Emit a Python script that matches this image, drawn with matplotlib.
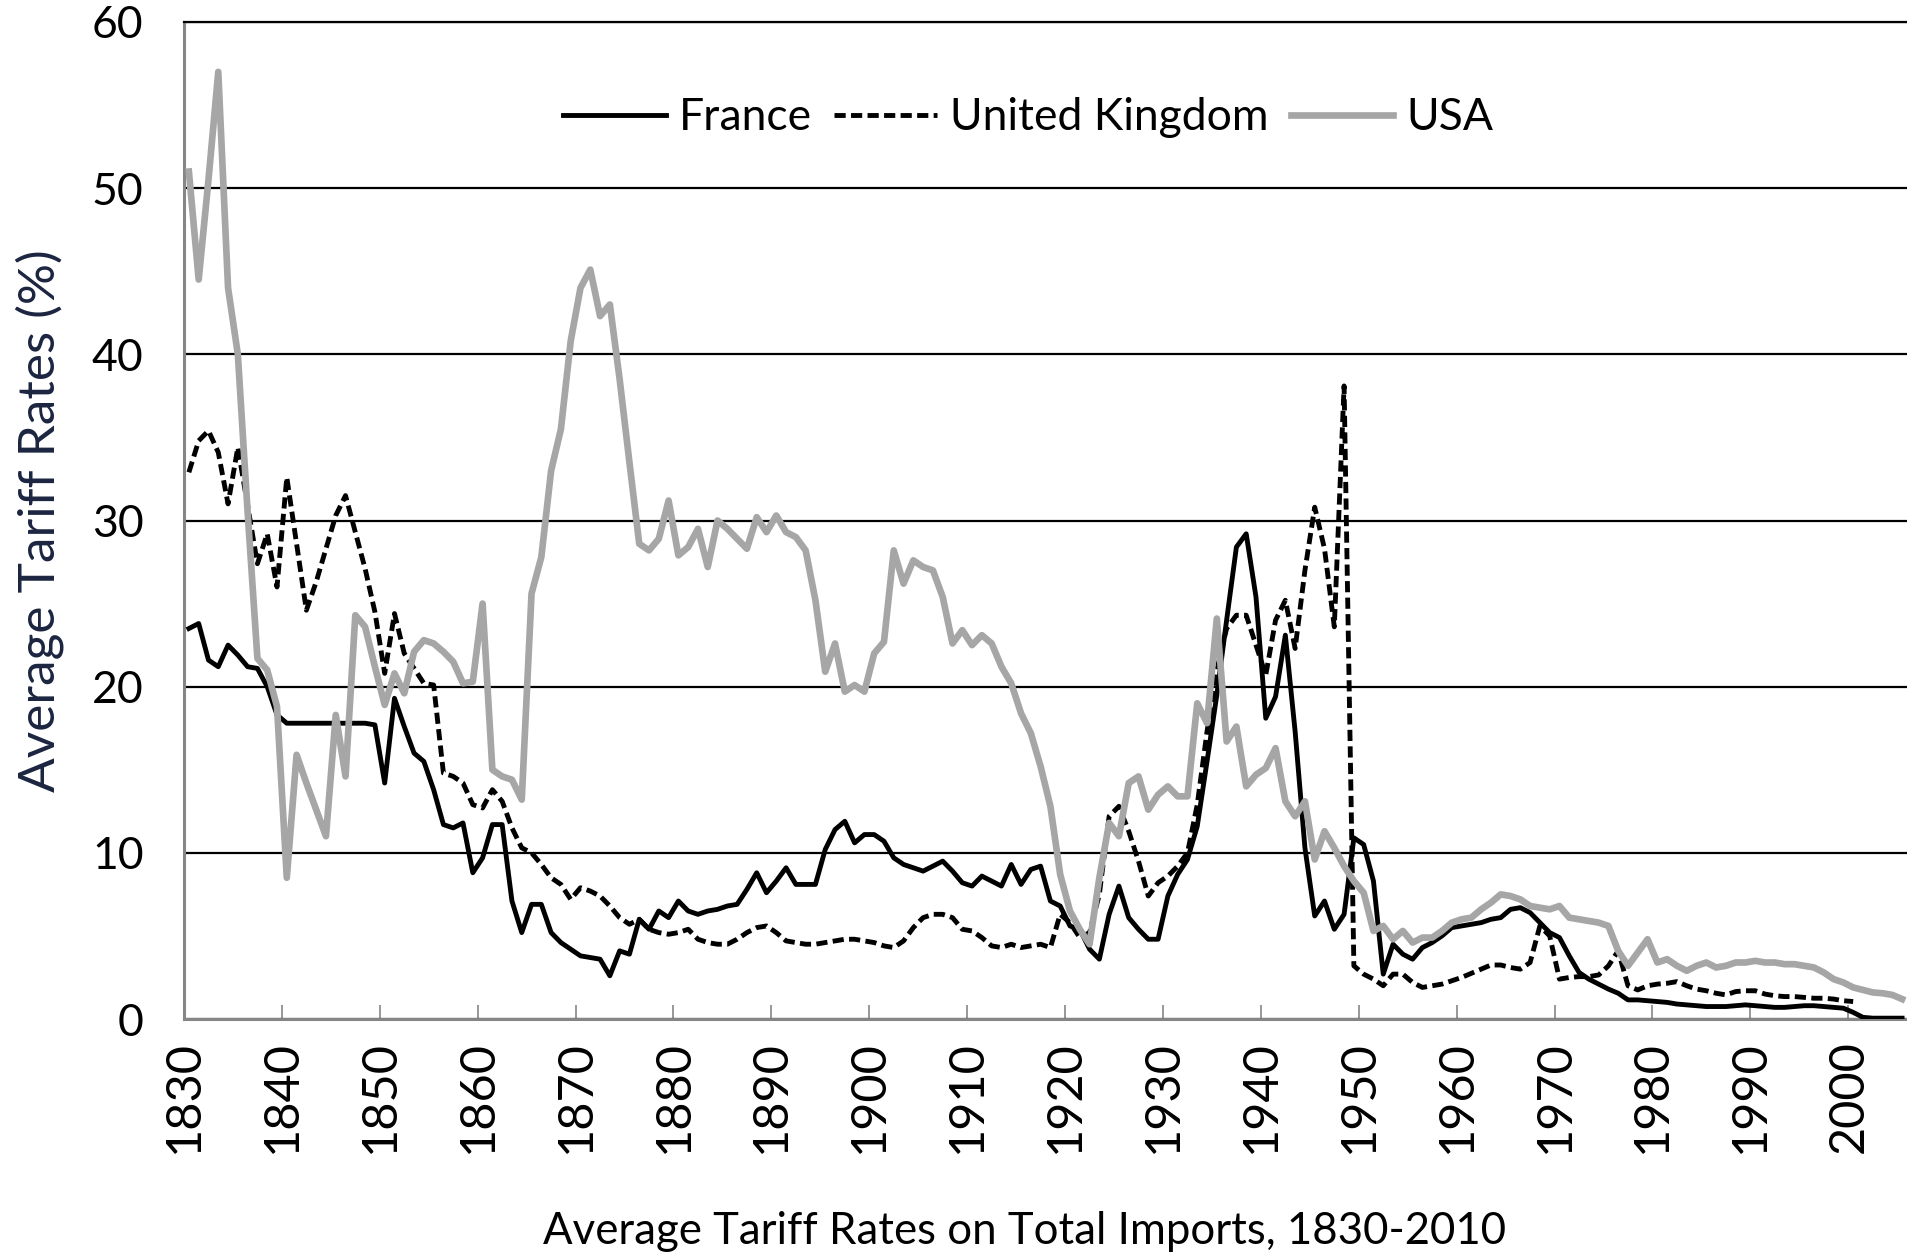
import matplotlib
matplotlib.use("Agg")
import matplotlib.pyplot as plt

# ---------------- data ----------------
years = list(range(1830, 2006))
uk_years = list(range(1830, 2001))

france = [
    23.5, 23.8, 21.6, 21.2, 22.5, 21.9, 21.2, 21.1, 20.0, 18.3,   # 1830s
    17.8, 17.8, 17.8, 17.8, 17.8, 17.8, 17.8, 17.8, 17.8, 17.7,   # 1840s
    14.2, 19.3, 17.6, 16.0, 15.5, 13.8, 11.7, 11.5, 11.8, 8.8,    # 1850s
    9.7, 11.7, 11.7, 7.1, 5.2, 6.9, 6.9, 5.2, 4.6, 4.2,           # 1860s
    3.8, 3.7, 3.6, 2.6, 4.1, 3.9, 6.0, 5.4, 6.5, 6.1,             # 1870s
    7.1, 6.5, 6.3, 6.5, 6.6, 6.8, 6.9, 7.8, 8.8, 7.6,             # 1880s
    8.3, 9.1, 8.1, 8.1, 8.1, 10.2, 11.4, 11.9, 10.6, 11.1,        # 1890s
    11.1, 10.7, 9.7, 9.3, 9.1, 8.9, 9.2, 9.5, 8.9, 8.2,           # 1900s
    8.0, 8.6, 8.3, 8.0, 9.3, 8.1, 9.0, 9.2, 7.1, 6.8,             # 1910s
    5.6, 5.4, 4.2, 3.6, 6.3, 8.0, 6.1, 5.4, 4.8, 4.8,             # 1920s
    7.4, 8.7, 9.6, 11.6, 15.5, 19.5, 24.0, 28.4, 29.2, 25.4,      # 1930s
    18.1, 19.4, 23.1, 17.3, 10.3, 6.2, 7.1, 5.4, 6.3, 10.9,       # 1940s
    10.5, 8.3, 2.7, 4.5, 3.9, 3.6, 4.3, 4.6, 5.0, 5.5,            # 1950s
    5.6, 5.7, 5.8, 6.0, 6.1, 6.6, 6.7, 6.4, 5.8, 5.2,             # 1960s
    4.9, 3.8, 2.8, 2.4, 2.1, 1.8, 1.55, 1.15, 1.15, 1.1,          # 1970s
    1.05, 1.0, 0.9, 0.85, 0.8, 0.75, 0.75, 0.75, 0.8, 0.85,       # 1980s
    0.8, 0.75, 0.7, 0.7, 0.75, 0.8, 0.8, 0.75, 0.7, 0.65,         # 1990s
    0.4, 0.1, 0.05, 0.05, 0.05, 0.05,                             # 2000s
]

uk = [
    32.9, 34.8, 35.4, 34.1, 31.0, 34.4, 30.9, 27.4, 29.2, 26.0,   # 1830s
    32.6, 28.6, 24.6, 26.3, 28.3, 30.3, 31.5, 29.3, 27.1, 24.5,   # 1840s
    20.8, 24.4, 22.0, 21.1, 20.2, 20.1, 14.8, 14.6, 14.2, 12.9,   # 1850s
    12.7, 13.8, 13.1, 11.5, 10.3, 10.0, 9.3, 8.5, 8.1, 7.2,       # 1860s
    7.9, 7.7, 7.4, 6.8, 6.1, 5.7, 6.0, 5.4, 5.2, 5.1,             # 1870s
    5.2, 5.4, 4.8, 4.6, 4.5, 4.5, 4.8, 5.2, 5.5, 5.6,             # 1880s
    5.2, 4.7, 4.6, 4.5, 4.5, 4.6, 4.7, 4.8, 4.8, 4.7,             # 1890s
    4.6, 4.4, 4.3, 4.7, 5.5, 6.1, 6.3, 6.3, 6.1, 5.4,             # 1900s
    5.3, 4.9, 4.4, 4.3, 4.5, 4.3, 4.4, 4.5, 4.3, 6.3,             # 1910s
    5.8, 4.9, 5.2, 7.5, 12.2, 12.8, 11.3, 9.5, 7.4, 8.2,          # 1920s
    8.6, 9.2, 10.0, 12.9, 17.3, 21.0, 23.5, 24.3, 24.3, 22.5,     # 1930s
    20.7, 24.0, 25.2, 22.3, 27.0, 30.8, 28.3, 23.6, 38.1, 3.2,    # 1940s
    2.7, 2.4, 2.0, 2.7, 2.7, 2.2, 1.9, 2.0, 2.1, 2.3,             # 1950s
    2.5, 2.75, 3.0, 3.25, 3.25, 3.1, 3.0, 3.4, 5.6, 5.0,          # 1960s
    2.4, 2.5, 2.55, 2.55, 2.65, 3.2, 4.1, 2.0, 1.75, 2.0,         # 1970s
    2.1, 2.15, 2.25, 2.0, 1.8, 1.7, 1.55, 1.45, 1.65, 1.7,        # 1980s
    1.7, 1.5, 1.4, 1.35, 1.35, 1.3, 1.25, 1.25, 1.2, 1.1,         # 1990s
    1.05,                                                         # 2000
]

usa = [
    51.0, 44.5, 50.5, 57.0, 44.0, 40.0, 30.5, 21.7, 21.0, 18.8,   # 1830s
    8.5, 15.9, 14.2, 12.6, 11.0, 18.3, 14.6, 24.3, 23.6, 21.2,    # 1840s
    18.9, 20.8, 19.6, 22.1, 22.8, 22.6, 22.1, 21.5, 20.2, 20.3,   # 1850s
    25.0, 15.0, 14.6, 14.4, 13.2, 25.6, 27.8, 33.0, 35.5, 40.8,   # 1860s
    44.0, 45.1, 42.3, 43.0, 38.5, 33.5, 28.6, 28.2, 28.9, 31.2,   # 1870s
    27.9, 28.4, 29.5, 27.2, 30.0, 29.5, 28.9, 28.3, 30.2, 29.3,   # 1880s
    30.3, 29.3, 29.0, 28.2, 25.2, 20.9, 22.6, 19.7, 20.1, 19.7,   # 1890s
    22.0, 22.7, 28.2, 26.2, 27.6, 27.2, 27.0, 25.4, 22.6, 23.4,   # 1900s
    22.5, 23.1, 22.6, 21.2, 20.2, 18.4, 17.2, 15.2, 12.8, 8.7,    # 1910s
    6.5, 5.4, 4.5, 8.5, 11.8, 11.0, 14.2, 14.6, 12.6, 13.5,       # 1920s
    14.0, 13.4, 13.4, 19.0, 17.8, 24.1, 16.7, 17.6, 14.0, 14.7,   # 1930s
    15.1, 16.3, 13.1, 12.2, 13.1, 9.6, 11.3, 10.3, 9.2, 8.3,      # 1940s
    7.6, 5.3, 5.6, 4.8, 5.3, 4.6, 4.9, 4.9, 5.3, 5.8,             # 1950s
    6.0, 6.1, 6.6, 7.0, 7.5, 7.4, 7.2, 6.8, 6.7, 6.6,             # 1960s
    6.8, 6.1, 6.0, 5.9, 5.8, 5.6, 4.1, 3.2, 4.0, 4.8,             # 1970s
    3.4, 3.6, 3.2, 2.9, 3.2, 3.4, 3.1, 3.2, 3.4, 3.4,             # 1980s
    3.5, 3.4, 3.4, 3.3, 3.3, 3.2, 3.1, 2.8, 2.4, 2.2,             # 1990s
    1.9, 1.75, 1.6, 1.55, 1.45, 1.2,                              # 2000s
]

series_names = ["France", "United Kingdom", "USA"]
xtick_years = list(range(1830, 2001, 10))
xtick_labels = [str(y) for y in xtick_years]
ytick_values = [0, 10, 20, 30, 40, 50, 60]

# ---------------- style ----------------
plt.rcParams['font.family'] = ['Lato', 'DejaVu Sans']
GRAY = '#A6A6A6'
SPINE = '#868686'

fig = plt.figure(figsize=(19.07, 12.59), dpi=100)
ax = fig.add_axes([184 / 1907, 1 - 1019 / 1259, (1907 - 184) / 1907, (1019 - 22) / 1259])

l_fr, = ax.plot(years, france, color='black', lw=3.5, solid_joinstyle='round',
                label=series_names[0], zorder=3)
l_uk, = ax.plot(uk_years, uk, color='black', lw=3.5, ls=(0, (2.3, 1.1)),
                dash_joinstyle='round', label=series_names[1], zorder=4)
l_us, = ax.plot(years, usa, color=GRAY, lw=4.8, solid_joinstyle='round',
                label=series_names[2], zorder=5)

ax.set_xlim(1829.5, 2005.5)
ax.set_ylim(0, 60)

ax.set_yticks(ytick_values)
ax.yaxis.grid(True, color='black', lw=1.6)
ax.set_axisbelow(True)

ax.set_xticks([y - 0.5 for y in xtick_years])
ax.set_xticklabels(xtick_labels, rotation=90)
ax.tick_params(axis='x', direction='in', length=10, width=1.2, color=SPINE,
               pad=15, labelsize=35)
ax.tick_params(axis='y', length=0, pad=29, labelsize=32)

for s in ['left', 'bottom']:
    ax.spines[s].set_color(SPINE)
    ax.spines[s].set_linewidth(2.2)
ax.spines['top'].set_color('black')
ax.spines['top'].set_linewidth(1.6)
ax.spines['right'].set_visible(False)

ax.set_ylabel("Average Tariff Rates (%)", fontsize=37, color='#1c2540')
ax.yaxis.set_label_coords(-0.0694, 0.5)

fig.text(1025 / 1907, 1 - 1231 / 1259, "Average Tariff Rates on Total Imports, 1830-2010",
         ha='center', va='center', fontsize=31.5)

ax.legend(handles=[l_fr, l_uk, l_us], loc='center', bbox_to_anchor=(0.49, 0.904),
          ncol=3, frameon=False, fontsize=32, handlelength=2.3, handletextpad=0.3,
          columnspacing=0.5)

fig.savefig("out.png", dpi=100)
